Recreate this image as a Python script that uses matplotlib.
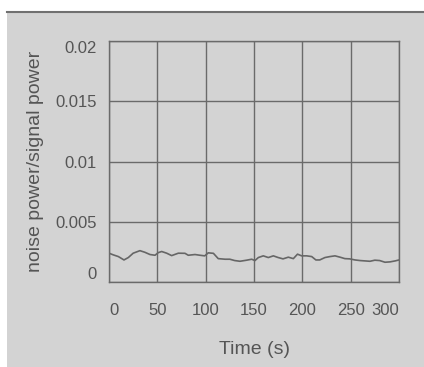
import matplotlib
matplotlib.use("Agg")
import matplotlib.pyplot as plt
from matplotlib.patches import Rectangle
from matplotlib.lines import Line2D

# data
time_s = [0, 4.5, 9.7, 15.5, 20, 25, 32, 37, 42.4, 47.6, 51, 54.5, 59.7, 64.8,
          71.7, 78.6, 82, 89, 94, 99, 102.7, 108, 113, 120, 125, 130, 135.5,
          142.4, 147.6, 151, 154.5, 159.6, 164.8, 170, 175, 180, 185.5, 190.7,
          195, 199.3, 204.5, 209.7, 214, 218, 223.4, 228.6, 233.8, 239, 244,
          249, 254.5, 259.7, 264.8, 270, 275, 280, 285.5, 290.7, 296, 300]
ratio = [0.00239, 0.00225, 0.00211, 0.00183, 0.00203, 0.00239, 0.00260, 0.00247,
         0.00228, 0.00222, 0.00244, 0.00253, 0.00239, 0.00219, 0.00239, 0.00238,
         0.00222, 0.00228, 0.00222, 0.00217, 0.00242, 0.00238, 0.00194, 0.00189,
         0.00189, 0.00178, 0.00172, 0.00181, 0.00189, 0.00178, 0.00203, 0.00217,
         0.00203, 0.00217, 0.00203, 0.00192, 0.00206, 0.00194, 0.00231, 0.00217,
         0.00217, 0.00211, 0.00183, 0.00183, 0.00203, 0.00211, 0.00217, 0.00206,
         0.00194, 0.00192, 0.00183, 0.00178, 0.00175, 0.00172, 0.00181, 0.00178,
         0.00164, 0.00167, 0.00175, 0.00183]
xticks = [0, 50, 100, 150, 200, 250, 300]
yticks = [0, 0.005, 0.01, 0.015, 0.02]
ytick_labels = ["0", "0.005", "0.01", "0.015", "0.02"]

plt.rcParams['font.family'] = ['Liberation Sans', 'DejaVu Sans']
txt = '#555555'
grid = '#6a6a6a'
bg = '#d3d3d3'

fig = plt.figure(figsize=(4.24, 3.67), dpi=100)
fig.patch.set_facecolor('white')
fig.patches.append(Rectangle((7 / 424, 0), 1, 356 / 367, transform=fig.transFigure,
                             facecolor=bg, edgecolor='none', zorder=-2))
fig.lines.append(Line2D([7 / 424, 1], [355.5 / 367, 355.5 / 367], transform=fig.transFigure,
                        color='#707070', lw=1.5))

ax = fig.add_axes([109 / 424, 1 - 282 / 367, 290 / 424, 241 / 367])
ax.set_facecolor(bg)
ax.plot(time_s, ratio, color='#666666', lw=1.2)
ax.set_xlim(0, 300)
ax.set_ylim(0, 0.02)
ax.set_xticks(xticks)
ax.set_xticklabels([str(t) for t in xticks])
ax.set_yticks(yticks)
ax.set_yticklabels(ytick_labels)
ax.grid(True, color=grid, lw=1)
for s in ax.spines.values():
    s.set_color(grid)
    s.set_linewidth(1)
ax.tick_params(length=0, labelsize=12, labelcolor=txt)
ax.tick_params(axis='x', pad=15)
ax.tick_params(axis='y', pad=9)

# keep end labels inside the axes span, like the reference
xl = ax.get_xticklabels()
xl[0].set_ha('left')
xl[-1].set_ha('right')
yl = ax.get_yticklabels()
yl[0].set_va('bottom')
yl[-1].set_va('top')

ax.set_xlabel('Time (s)', fontsize=14, color=txt, labelpad=17)
ax.set_ylabel('noise power/signal power', fontsize=14, color=txt, labelpad=8)

fig.savefig('out.png', dpi=100)
